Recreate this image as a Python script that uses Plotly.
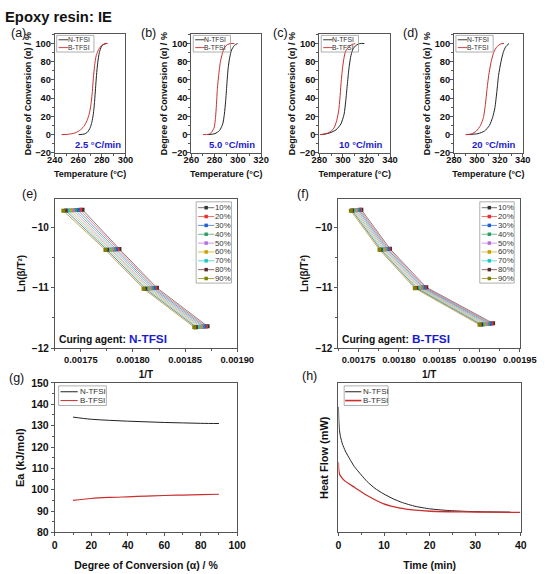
import plotly.graph_objects as go

W, H = 556, 574
FONT = "Liberation Sans, Arial, sans-serif"
FRAME = "#555555"
BLACK = "#222222"
RED = "#cc2e2e"
BLUE = "#1a1acd"

# ---------------- (a)-(d): degree of conversion vs temperature ----------------
A_T_N = [260.3, 265.1, 267.8, 270.0, 271.4, 272.7, 273.8, 274.6, 275.4, 276.5, 277.8, 279.5, 281.4, 284.1]
A_A_N = [0, 0.7, 2.8, 7.5, 13.5, 22.4, 36.7, 50.9, 65.1, 79.4, 90.0, 96.4, 98.9, 100]
A_T_B = [245.7, 251.6, 257.0, 261.1, 264.6, 267.3, 269.2, 270.5, 271.9, 272.7, 273.8, 275.1, 277.3, 280.0, 282.7, 284.9]
A_A_B = [0, 0.4, 1.8, 4.6, 8.9, 15.3, 22.4, 31.3, 47.3, 61.6, 75.8, 86.5, 93.6, 98.2, 100, 100]

B_T_N = [274.3, 280.3, 284.3, 287.0, 288.4, 289.5, 290.5, 291.6, 293.0, 294.6, 297.0, 299.7]
B_A_N = [0, 1.1, 4.6, 11.7, 22.4, 36.7, 54.4, 72.2, 84.7, 92.9, 97.9, 100]
B_T_B = [270.0, 274.9, 277.6, 279.7, 280.8, 281.6, 282.4, 283.5, 284.9, 286.5, 288.4, 291.1, 293.8, 297.0]
B_A_B = [0, 0.4, 2.8, 8.2, 18.9, 33.1, 50.9, 65.1, 79.4, 88.3, 95.4, 98.9, 100, 100]

C_T_N = [281.9, 288.7, 294.2, 298.3, 301.0, 302.4, 303.7, 305.1, 306.5, 308.4, 311.1, 314.6, 318.2]
C_A_N = [0, 1.8, 5.3, 11.7, 22.4, 36.7, 54.4, 72.2, 84.7, 93.6, 97.9, 100, 100]
C_T_B = [280.5, 286.0, 290.1, 292.8, 294.7, 296.4, 297.5, 298.3, 299.6, 301.0, 302.4, 305.1, 307.8, 310.5]
C_A_B = [0, 1.1, 3.9, 8.2, 15.3, 26.0, 40.2, 54.4, 72.2, 84.7, 91.8, 96.4, 98.9, 100]

D_T_N = [290.9, 300.9, 306.6, 310.9, 313.7, 315.7, 317.4, 318.9, 320.9, 322.9, 325.1, 328.0]
D_A_N = [0, 1.1, 3.9, 10.0, 18.9, 29.5, 47.3, 65.1, 79.4, 90.0, 96.4, 100]
D_T_B = [290.0, 295.1, 299.4, 303.1, 305.7, 307.4, 308.9, 310.3, 312.3, 314.6, 317.4, 320.9, 323.7]
D_A_B = [0, 0.7, 3.9, 10.0, 18.9, 33.1, 50.9, 65.1, 79.4, 90.0, 96.4, 99.6, 100]

RATES = ["2.5 °C/min", "5.0 °C/min", "10 °C/min", "20 °C/min"]
AGENTS = ["N-TFSI", "B-TFSI"]

# ---------------- (e)/(f): Ln(beta/T^2) vs 1/T, per conversion level ----------------
CONV = ["10%", "20%", "30%", "40%", "50%", "60%", "70%", "80%", "90%"]
CONV_COLORS = ["#333333", "#e8302c", "#1f5fd0", "#2e9e62", "#b46ee0",
               "#c9a000", "#1ec8c8", "#5a2a2a", "#7f7f00"]

E_INVT_20 = [0.0017516, 0.0017493, 0.0017470, 0.0017447, 0.0017424, 0.0017401, 0.0017378, 0.0017355, 0.0017332]
E_INVT_10 = [0.0017870, 0.0017853, 0.0017836, 0.0017819, 0.0017802, 0.0017785, 0.0017768, 0.0017751, 0.0017736]
E_INVT_5 = [0.0018230, 0.0018214, 0.0018198, 0.0018182, 0.0018166, 0.0018150, 0.0018134, 0.0018118, 0.0018102]
E_INVT_2_5 = [0.0018716, 0.0018700, 0.0018684, 0.0018668, 0.0018652, 0.0018636, 0.0018620, 0.0018604, 0.0018588]
E_LN_20 = [-9.700, -9.702, -9.704, -9.706, -9.708, -9.711, -9.713, -9.715, -9.718]
E_LN_10 = [-10.355, -10.357, -10.359, -10.360, -10.362, -10.364, -10.366, -10.368, -10.370]
E_LN_5 = [-11.000, -11.002, -11.004, -11.006, -11.008, -11.009, -11.011, -11.013, -11.015]
E_LN_2_5 = [-11.640, -11.642, -11.644, -11.646, -11.648, -11.649, -11.651, -11.653, -11.655]

F_INVT_20 = [0.0017534, 0.0017518, 0.0017502, 0.0017486, 0.0017469, 0.0017453, 0.0017437, 0.0017420, 0.0017404]
F_INVT_10 = [0.0017889, 0.0017873, 0.0017857, 0.0017840, 0.0017824, 0.0017808, 0.0017791, 0.0017775, 0.0017759]
F_INVT_5 = [0.0018339, 0.0018321, 0.0018303, 0.0018286, 0.0018268, 0.0018250, 0.0018232, 0.0018215, 0.0018197]
F_INVT_2_5 = [0.0019168, 0.0019147, 0.0019126, 0.0019105, 0.0019084, 0.0019063, 0.0019042, 0.0019021, 0.0019000]
F_LN_20 = [-9.700, -9.702, -9.704, -9.706, -9.708, -9.711, -9.713, -9.715, -9.718]
F_LN_10 = [-10.350, -10.352, -10.354, -10.356, -10.358, -10.360, -10.362, -10.364, -10.366]
F_LN_5 = [-10.990, -10.992, -10.994, -10.996, -10.998, -11.000, -11.002, -11.004, -11.006]
F_LN_2_5 = [-11.590, -11.593, -11.596, -11.599, -11.602, -11.605, -11.608, -11.611, -11.614]

# ---------------- (g): activation energy ----------------
G_ALPHA = [10, 20, 30, 40, 50, 60, 70, 80, 90]
G_EA_N = [134.0, 133.0, 132.5, 132.1, 131.8, 131.5, 131.3, 131.1, 131.0]
G_EA_B = [95.0, 95.9, 96.4, 96.7, 97.0, 97.3, 97.5, 97.7, 97.9]

# ---------------- (h): isothermal heat flow ----------------
H_T_N = [0.0, 0.08, 0.2, 0.45, 0.9, 1.5, 2.5, 3.5, 5.0, 6.3, 8.0, 9.8, 12.0, 14.0, 16.8, 20.0, 24.0, 28.0, 32.0, 37.7]
H_HF_N = [8.4, 7.5, 6.9, 6.4, 5.9, 5.45, 4.9, 4.4, 3.85, 3.4, 2.95, 2.6, 2.25, 2.0, 1.75, 1.58, 1.47, 1.41, 1.38, 1.36]
H_T_B = [0.0, 0.06, 0.25, 0.6, 1.4, 3.5, 6.3, 9.8, 13.3, 16.8, 20.2, 27.2, 33.0, 39.8]
H_HF_B = [4.7, 4.2, 3.9, 3.72, 3.45, 3.02, 2.47, 1.93, 1.64, 1.49, 1.42, 1.38, 1.36, 1.34]


def X(p):
    return p / W


def Y(p):
    return 1 - p / H


fig = go.Figure()


def base_axis(domain, rng, dtick, minor_dtick, anchor, tsize, title, tfs, standoff, fmt=None, tick0=None, tls=0):
    d = dict(domain=domain, range=rng, dtick=dtick, anchor=anchor,
             showline=True, mirror=True, linecolor=FRAME, linewidth=1,
             ticks="outside", ticklen=3, tickwidth=1, tickcolor=FRAME,
             tickfont=dict(family=FONT, size=tsize, color="#111", weight="bold"),
             minor=dict(ticks="outside", ticklen=2, dtick=minor_dtick, tickcolor=FRAME),
             showgrid=False, zeroline=False, ticklabelstandoff=tls,
             title=dict(text=title, font=dict(family=FONT, size=tfs, color="#111", weight="bold"), standoff=standoff))
    if fmt:
        d["tickformat"] = fmt
    if tick0 is not None:
        d["tick0"] = tick0
    return d


# top row panels
top_y = [Y(150), Y(29)]
top_boxes = [(49, 123), (192, 265), (326, 400), (467, 539)]
top_ranges = [(240, 300), (260, 320), (280, 340), (280, 340)]
top_data = [(A_T_N, A_A_N, A_T_B, A_A_B), (B_T_N, B_A_N, B_T_B, B_A_B),
            (C_T_N, C_A_N, C_T_B, C_A_B), (D_T_N, D_A_N, D_T_B, D_A_B)]

layout = {}
for i in range(4):
    n = i + 1
    xs = "x" if n == 1 else f"x{n}"
    ys = "y" if n == 1 else f"y{n}"
    l, r = top_boxes[i]
    layout["xaxis" if n == 1 else f"xaxis{n}"] = base_axis(
        [X(l), X(r)], list(top_ranges[i]), 20, 10, ys, 9.3, "Temperature (°C)", 9, 6, tls=-5)
    layout["yaxis" if n == 1 else f"yaxis{n}"] = base_axis(
        top_y, [-20, 110], 20, 10, xs, 9.3, "Degree of Conversion (α) / %", 9, 2, tick0=0, tls=-2)
    tn, an, tb, ab = top_data[i]
    fig.add_trace(go.Scatter(x=tn, y=an, xaxis=xs, yaxis=ys, mode="lines", name=AGENTS[0],
                             line=dict(color=BLACK, width=1, shape="spline", smoothing=0.6), showlegend=False))
    fig.add_trace(go.Scatter(x=tb, y=ab, xaxis=xs, yaxis=ys, mode="lines", name=AGENTS[1],
                             line=dict(color=RED, width=1, shape="spline", smoothing=0.6), showlegend=False))

# (e), (f)
mid_y = [Y(349.3), Y(197)]
E_X = [E_INVT_20, E_INVT_10, E_INVT_5, E_INVT_2_5]
E_Y = [E_LN_20, E_LN_10, E_LN_5, E_LN_2_5]
F_X = [F_INVT_20, F_INVT_10, F_INVT_5, F_INVT_2_5]
F_Y = [F_LN_20, F_LN_10, F_LN_5, F_LN_2_5]
layout["xaxis5"] = base_axis([X(49), X(240)], [0.001725, 0.0019], 0.00005, 0.000025, "y5", 9.3, "1/T", 10, 6, fmt=".5f", tick0=0.00175)
layout["yaxis5"] = base_axis(mid_y, [-12, -9.52], 1, 0.5, "x5", 10, "Ln(β/T²)", 10, 4, tick0=-12)
layout["xaxis6"] = base_axis([X(346), X(536)], [0.001725, 0.00195], 0.00005, 0.000025, "y6", 9.3, "1/T", 10, 6, fmt=".5f", tick0=0.00175)
layout["yaxis6"] = base_axis(mid_y, [-12, -9.52], 1, 0.5, "x6", 10, "Ln(β/T²)", 10, 4, tick0=-12)

for xs, ys, XX, YY in (("x5", "y5", E_X, E_Y), ("x6", "y6", F_X, F_Y)):
    for k in range(9):
        fig.add_trace(go.Scatter(
            x=[arr[k] for arr in XX], y=[arr[k] for arr in YY], xaxis=xs, yaxis=ys,
            mode="lines+markers", name=CONV[k], showlegend=False,
            line=dict(color=CONV_COLORS[k], width=0.6),
            marker=dict(symbol="square", size=4, color=CONV_COLORS[k], line=dict(width=0))))

# (g)
bot_y = [Y(537.7), Y(385)]
layout["xaxis7"] = base_axis([X(49), X(240)], [0, 100], 20, 10, "y7", 10.5, "Degree of Conversion (α) / %", 10.5, 11)
layout["yaxis7"] = base_axis(bot_y, [80, 150], 10, 5, "x7", 10.5, "Ea (kJ/mol)", 11, 4)
fig.add_trace(go.Scatter(x=G_ALPHA, y=G_EA_N, xaxis="x7", yaxis="y7", mode="lines", name=AGENTS[0],
                         line=dict(color=BLACK, width=1, shape="spline"), showlegend=False))
fig.add_trace(go.Scatter(x=G_ALPHA, y=G_EA_B, xaxis="x7", yaxis="y7", mode="lines", name=AGENTS[1],
                         line=dict(color=RED, width=1.2, shape="spline"), showlegend=False))

# (h)
layout["xaxis8"] = base_axis([X(346), X(537)], [0, 40], 10, 5, "y8", 10.5, "Time (min)", 10.5, 11)
layout["yaxis8"] = base_axis(bot_y, [0, 10], 2, 1, "x8", 10.5, "Heat Flow (mW)", 11, 6)
layout["yaxis8"].update(showticklabels=False, ticks="", minor=dict(ticks=""))
fig.add_trace(go.Scatter(x=H_T_N, y=H_HF_N, xaxis="x8", yaxis="y8", mode="lines", name=AGENTS[0],
                         line=dict(color=BLACK, width=1, shape="spline", smoothing=0.5), showlegend=False))
fig.add_trace(go.Scatter(x=H_T_B, y=H_HF_B, xaxis="x8", yaxis="y8", mode="lines", name=AGENTS[1],
                         line=dict(color=RED, width=1.3, shape="spline", smoothing=0.5), showlegend=False))

# ---------------- annotations / hand-made legends ----------------
ann = []
shapes = []


def text(x, y, t, size, bold=False, color="#111"):
    # x is the horizontal centre of the text
    ann.append(dict(x=X(x), y=Y(y), xref="paper", yref="paper", text=t, showarrow=False,
                    xanchor="center", yanchor="middle", borderpad=0,
                    font=dict(family=FONT, size=size, color=color, weight="bold" if bold else "normal")))


def hline(x0, x1, y, color, width=1):
    shapes.append(dict(type="line", xref="paper", yref="paper", x0=X(x0), x1=X(x1), y0=Y(y), y1=Y(y),
                       line=dict(color=color, width=width)))


def box(x0, x1, y0, y1):
    shapes.append(dict(type="rect", xref="paper", yref="paper", x0=X(x0), x1=X(x1), y0=Y(y1), y1=Y(y0),
                       line=dict(color="#9a9a9a", width=0.8), fillcolor="rgba(255,255,255,0)"))


text(53, 11, "Epoxy resin: IE", 14.8, bold=True)
for lab, x, y in (("(a)", 11, 28), ("(b)", 147, 28), ("(c)", 285, 28), ("(d)", 421, 28),
                  ("(e)", 23, 192), ("(f)", 309, 192), ("(g)", 9, 380), ("(h)", 316, 378)):
    text(x, y, lab, 12.5)

rate_x = [94, 235, 370, 509]
for i in range(4):
    l, r = top_boxes[i]
    text(rate_x[i], 141, RATES[i], 9.5, bold=True, color=BLUE)
    box(l + 2, l + 41, 30, 47)
    hline(l + 4, l + 14, 34.5, BLACK, 0.9)
    hline(l + 4, l + 14, 42.5, RED, 0.9)
    text(l + 25, 34.5, AGENTS[0], 6.8, color="#333")
    text(l + 25, 42.5, AGENTS[1], 6.8, color="#333")

# (e)/(f) legends
for (bx0, bx1, lx0, lx1) in ((197, 234, 199, 216), (494, 530, 496, 512)):
    box(bx0, bx1, 200, 283)
    for k in range(9):
        yy = 206 + 9.04 * k
        hline(lx0, lx1, yy, CONV_COLORS[k], 0.7)
        mx = (lx0 + lx1) / 2
        shapes.append(dict(type="rect", xref="paper", yref="paper", x0=X(mx - 1.8), x1=X(mx + 1.8),
                           y0=Y(yy + 1.8), y1=Y(yy - 1.8), line=dict(width=0), fillcolor=CONV_COLORS[k]))
        text(lx1 + 9, yy, CONV[k], 7.8, color="#333")

text(89, 341, "Curing agent:", 10.3, bold=True)
text(147, 340.5, AGENTS[0], 11.8, bold=True, color=BLUE)
text(385, 341, "Curing agent:", 10.3, bold=True)
text(443, 340.5, AGENTS[1], 11.8, bold=True, color=BLUE)

# (g)/(h) legends
for (bx0, bx1, lx0, lx1, wb, tc) in ((53, 103, 55, 73, 1.0, 88.5), (352, 398, 353, 370, 1.6, 385)):
    box(bx0, bx1, 388, 408)
    hline(lx0, lx1, 394, BLACK, 1)
    hline(lx0, lx1, 403, RED, wb)
    text(tc, 394, AGENTS[0], 8, color="#333")
    text(tc, 403, AGENTS[1], 8, color="#333")

fig.update_layout(**layout)
fig.update_layout(width=W, height=H, margin=dict(l=0, r=0, t=0, b=0),
                  paper_bgcolor="white", plot_bgcolor="white",
                  annotations=ann, shapes=shapes, showlegend=False)

fig.write_html("out.html")
